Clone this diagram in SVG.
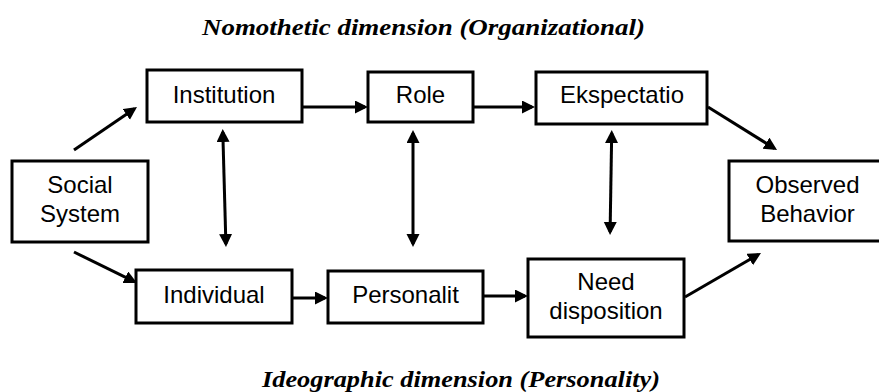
<svg xmlns="http://www.w3.org/2000/svg" width="879" height="392" viewBox="0 0 879 392">
<style>
.box{fill:#fff;stroke:#000;stroke-width:3}
.lbl{font-family:"Liberation Sans",Arial,sans-serif;font-size:24px;fill:#000;text-anchor:middle}
.ttl{font-family:"Liberation Serif","Times New Roman",serif;font-size:24px;font-weight:bold;font-style:italic;fill:#000;text-anchor:middle}
.c{stroke:#000;stroke-width:3;fill:none;marker-end:url(#ah)}
.d{stroke:#000;stroke-width:3;fill:none;marker-end:url(#ah);marker-start:url(#ah)}
</style>
<defs>
<marker id="ah" markerUnits="userSpaceOnUse" markerWidth="14" markerHeight="14" refX="10" refY="6.5" orient="auto-start-reverse">
<path d="M0,0 L13,6.5 L0,13 z" fill="#000"/>
</marker>
</defs>
<rect width="879" height="392" fill="#fff"/>
<text class="ttl" x="423.5" y="35" textLength="443" lengthAdjust="spacingAndGlyphs">Nomothetic dimension (Organizational)</text>
<text class="ttl" x="461" y="387" textLength="398" lengthAdjust="spacingAndGlyphs">Ideographic dimension (Personality)</text>
<g id="connectors">
<line class="c" x1="74" y1="150" x2="134.5" y2="108.7"/>
<line class="c" x1="302" y1="107" x2="365" y2="107"/>
<line class="c" x1="473" y1="107" x2="532" y2="107"/>
<line class="c" x1="708" y1="107" x2="774.5" y2="148.4"/>
<line class="c" x1="74" y1="252" x2="134.3" y2="281.7"/>
<line class="c" x1="293" y1="298" x2="325" y2="298"/>
<line class="c" x1="483" y1="296" x2="525" y2="296"/>
<line class="c" x1="685" y1="297" x2="758.4" y2="254.5"/>
<line class="d" x1="222.8" y1="132" x2="225.9" y2="244"/>
<line class="d" x1="413" y1="133" x2="413" y2="244"/>
<line class="d" x1="611.7" y1="133" x2="610.1" y2="232"/>
</g>
<g id="social"><rect class="box" x="12" y="161" width="136" height="81"/><text class="lbl" x="80" y="193">Social</text><text class="lbl" x="80" y="222">System</text></g>
<g id="institution"><rect class="box" x="147" y="70" width="155" height="52"/><text class="lbl" x="224" y="103">Institution</text></g>
<g id="role"><rect class="box" x="368" y="72" width="105" height="50"/><text class="lbl" x="420.5" y="103">Role</text></g>
<g id="ekspectatio"><rect class="box" x="536" y="72" width="171" height="52"/><text class="lbl" x="622" y="103">Ekspectatio</text></g>
<g id="observed"><rect class="box" x="729" y="161" width="157" height="80"/><text class="lbl" x="807.5" y="193">Observed</text><text class="lbl" x="807.5" y="222">Behavior</text></g>
<g id="individual"><rect class="box" x="136" y="270" width="156" height="53"/><text class="lbl" x="214" y="303">Individual</text></g>
<g id="personalit"><rect class="box" x="328" y="271" width="155" height="52"/><text class="lbl" x="405.5" y="303">Personalit</text></g>
<g id="need"><rect class="box" x="528" y="259" width="156" height="78"/><text class="lbl" x="606" y="290">Need</text><text class="lbl" x="606" y="319">disposition</text></g>
</svg>
